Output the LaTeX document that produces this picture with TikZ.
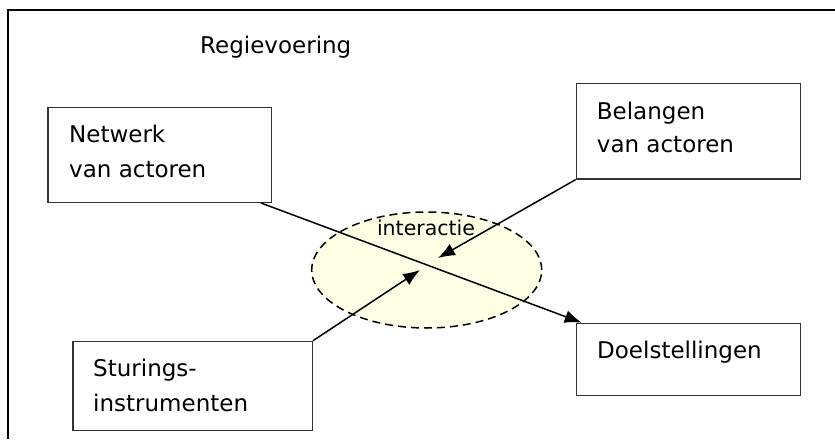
\documentclass[tikz,border=0pt]{standalone}
\usepackage{fontspec}
\setmainfont{DejaVu Sans}
\usetikzlibrary{shapes.geometric,arrows.meta,calc}
\definecolor{boxline}{HTML}{333333}
\definecolor{cloud}{HTML}{FEFEE4}
\begin{document}
\begin{tikzpicture}[x=1pt,y=-1pt,
  box/.style={draw=boxline,line width=1.3pt,anchor=north west,inner sep=0pt},
  txt/.style={anchor=base west,inner sep=0pt,font=\fontsize{23}{27}\selectfont},
  conn/.style={line width=1.5pt},
  tipped/.style={-{Latex[length=17pt,width=13pt]}}]
\useasboundingbox (0,0) rectangle (835,439);
\fill[white] (0,0) rectangle (835,439);
\draw[line width=2pt] (835,10) -- (7.5,10) -- (7.5,439);
\node[txt] (title) at (200,53) {Regievoering};
% ellipse
\node[ellipse,draw=black,line width=1.5pt,dash pattern=on 8pt off 5pt,fill=cloud,
      minimum width=230pt,minimum height=116pt,inner sep=0pt] (ell) at (426.7,270) {};
\node[anchor=base,inner sep=0pt,font=\fontsize{20.5}{24}\selectfont] (inter) at (426,235) {interactie};
% boxes
\node[box,minimum width=223.4pt,minimum height=95pt] (net) at (47.3,106.7) {};
\node[box,minimum width=224.3pt,minimum height=95.6pt] (bel) at (575.7,82.7) {};
\node[box,minimum width=224.3pt,minimum height=72.3pt] (doel) at (575.7,322.7) {};
\node[box,minimum width=239.4pt,minimum height=89.3pt] (stu) at (72.3,340.7) {};
% texts
\node[txt] (netA) at ($(net.north west)+(21.7,36)$) {Netwerk};
\node[txt] (netB) at ($(net.north west)+(21.7,70.3)$) {van actoren};
\node[txt] (belA) at ($(bel.north west)+(21,36.3)$) {Belangen};
\node[txt] (belB) at ($(bel.north west)+(21,70)$) {van actoren};
\node[txt] (doelA) at ($(doel.north west)+(21.3,35.3)$) {Doelstellingen};
\node[txt] (stuA) at ($(stu.north west)+(20.7,36)$) {Sturings-};
\node[txt] (stuB) at ($(stu.north west)+(20.7,71)$) {instrumenten};
% connectors
\coordinate (netout) at ($(net.south east)+(-11,0)$);
\coordinate (doelin) at ($(doel.north west)+(6,0)$);
\coordinate (belend) at (438,258);
\coordinate (stuend) at (420,270);
\draw[conn,tipped] (netout) -- (doelin);
\draw[conn,tipped] (bel.south west) -- (belend);
\draw[conn,tipped] (stu.north east) -- (stuend);
\end{tikzpicture}
\end{document}
